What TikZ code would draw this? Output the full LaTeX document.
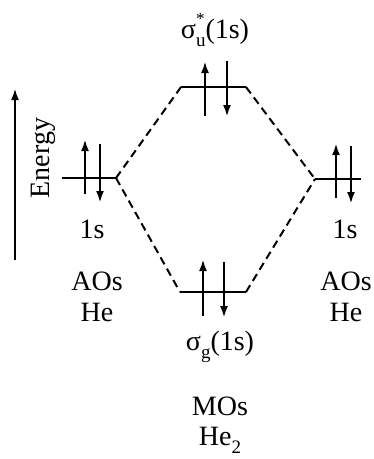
\documentclass[tikz,border=0pt]{standalone}
\usepackage{fontspec}
\setmainfont{Liberation Serif}
\usetikzlibrary{arrows.meta}
\newcommand{\supsub}[2]{\rlap{\raisebox{0.5em}{\fontsize{17}{17}\selectfont #1}}\raisebox{-0.28em}{\fontsize{19}{19}\selectfont #2}}
\newcommand{\lowsub}[1]{\raisebox{-0.28em}{\fontsize{19}{19}\selectfont #1}}
\begin{document}
\begin{tikzpicture}[x=1pt,y=-1pt,
  level/.style={line width=2.8pt},
  spin/.style={line width=2.4pt,-{Latex[length=12pt,width=8pt]}},
  corr/.style={line width=2pt,dash pattern=on 8pt off 5pt},
  lab/.style={font=\fontsize{28}{33}\selectfont,inner sep=0pt}]
\useasboundingbox (0,0) rectangle (374,459);
% energy axis
\coordinate (eb) at (15,260);
\coordinate (et) at (15,88);
\draw[spin] (eb) -- (et);
\node[lab,rotate=90] (energy) at (43,158) {Energy};
% left AO
\coordinate (la) at (62,178);
\coordinate (lb) at (116,178);
\draw[level] (la) -- (lb);
\coordinate (lu1) at (85,194); \coordinate (lu2) at (85,139);
\coordinate (ld1) at (100,144); \coordinate (ld2) at (100,203);
\draw[spin] (lu1) -- (lu2);
\draw[spin] (ld1) -- (ld2);
\node[lab] (l1s) at (92,229) {1s};
\node[lab] (laos) at (97,281) {AOs};
\node[lab] (lhe) at (97,312) {He};
% right AO
\coordinate (ra) at (315,179);
\coordinate (rb) at (361,179);
\draw[level] (ra) -- (rb);
\coordinate (ru1) at (336,198); \coordinate (ru2) at (336,143);
\coordinate (rd1) at (351,146); \coordinate (rd2) at (351,204);
\draw[spin] (ru1) -- (ru2);
\draw[spin] (rd1) -- (rd2);
\node[lab] (r1s) at (345,229) {1s};
\node[lab] (raos) at (346,281) {AOs};
\node[lab] (rhe) at (346,312) {He};
% antibonding MO
\coordinate (ta) at (181,87);
\coordinate (tb) at (246,87);
\draw[level] (ta) -- (tb);
\coordinate (tu1) at (205,116); \coordinate (tu2) at (205,61);
\coordinate (td1) at (227,61); \coordinate (td2) at (227,117);
\draw[spin] (tu1) -- (tu2);
\draw[spin] (td1) -- (td2);
\node[lab] (tlab) at (215,30) {σ\supsub{*}{u}(1s)};
% bonding MO
\coordinate (ba) at (180,292);
\coordinate (bb) at (246,292);
\draw[level] (ba) -- (bb);
\coordinate (bu1) at (203,316); \coordinate (bu2) at (203,259);
\coordinate (bd1) at (224,262); \coordinate (bd2) at (224,318);
\draw[spin] (bu1) -- (bu2);
\draw[spin] (bd1) -- (bd2);
\node[lab] (blab) at (220,347) {σ\lowsub{g}(1s)};
\node[lab] (mos) at (220,406) {MOs};
\node[lab] (he2) at (220,440) {He\lowsub{2}};
% correlation lines
\draw[corr] (lb) -- (ta);
\draw[corr] (lb) -- (ba);
\draw[corr] (tb) -- (ra);
\draw[corr] (bb) -- (ra);
\end{tikzpicture}
\end{document}
